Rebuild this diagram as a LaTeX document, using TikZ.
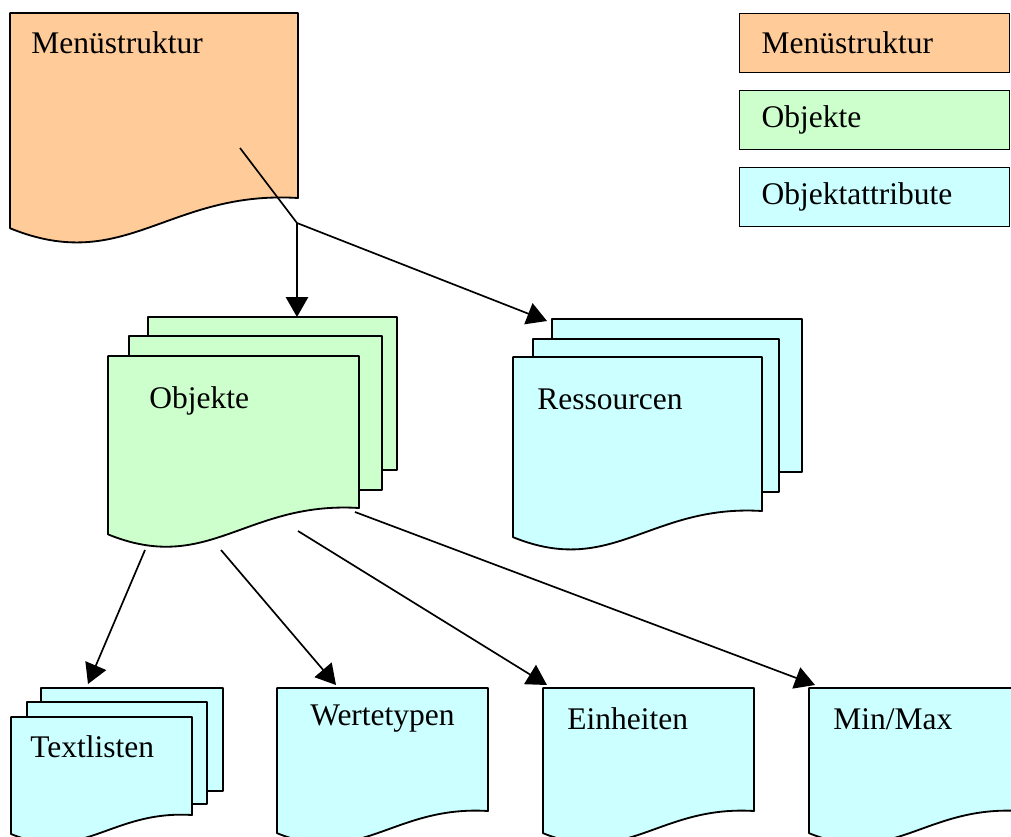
\documentclass[tikz,border=0pt]{standalone}
\usepackage{fontspec}
\setmainfont{Liberation Serif}
\usetikzlibrary{arrows.meta}
\definecolor{menucol}{HTML}{FFCC99}
\definecolor{objcol}{HTML}{CCFFCC}
\definecolor{attrcol}{HTML}{CCFFFF}
% page with wavy bottom: fill, left, top, right, bottom of right edge
\newcommand{\docpage}[5]{%
  \pgfmathsetmacro{\pgw}{#4-#2}
  \draw[docshape, fill=#1] (#2,#3) -- (#4,#3) -- (#4,#5)
    .. controls (#2+0.55*\pgw,#5-0.028*\pgw) and (#2+0.4*\pgw,#5+0.268*\pgw) .. (#2,#5+0.105*\pgw) -- cycle;
}
\begin{document}
\begin{tikzpicture}[
    x=0.025cm, y=-0.025cm,
    docshape/.style={draw, line width=1.3pt, line join=round},
    txt/.style={anchor=base west, inner sep=0pt, font=\fontsize{22.4}{27}\selectfont},
    keybox/.style={draw, line width=0.9pt, anchor=north west, minimum height=1.475cm,
        text width=5.65cm, inner xsep=0.55cm, align=left, font=\fontsize{22.4}{27}\selectfont},
    conn/.style={draw, line width=1.2pt},
    arr/.style={conn, -{Triangle[length=0.5cm, width=0.56cm]}}
    ]
\clip (0,0) rectangle (1011,836);

% Menüstruktur
\docpage{menucol}{10}{13}{298}{198}
\node[txt] (menu) at (31,53) {Menüstruktur};

% Objekte
\draw[docshape, fill=objcol] (148,317) rectangle (397,470);
\draw[docshape, fill=objcol] (129,336) rectangle (382,490);
\docpage{objcol}{108}{356}{359}{508}
\node[txt] (obj) at (149,408) {Objekte};

% Ressourcen
\draw[docshape, fill=attrcol] (552,319) rectangle (802,472);
\draw[docshape, fill=attrcol] (533,339) rectangle (779,492);
\docpage{attrcol}{513}{357}{762}{511}
\node[txt] (res) at (537,409) {Ressourcen};

% attributes
\draw[docshape, fill=attrcol] (41,688) rectangle (223,791);
\draw[docshape, fill=attrcol] (27,702) rectangle (207,804);
\docpage{attrcol}{11}{717}{192}{815}
\node[txt] (tl) at (30,757) {Textlisten};
\docpage{attrcol}{277}{688}{488}{811}
\node[txt] (wt) at (310,725) {Wertetypen};
\docpage{attrcol}{543}{688}{754}{811}
\node[txt] (eh) at (567,729) {Einheiten};
\docpage{attrcol}{809}{688}{1020}{811}
\node[txt] (mm) at (833,729) {Min/Max};

% legend
\node[keybox, fill=menucol] (k1) at (739,13) {Menüstruktur};
\node[keybox, fill=objcol] (k2) at (739,90) {Objekte};
\node[keybox, fill=attrcol] (k3) at (739,167) {Objektattribute};

\coordinate (menu-s) at (240,148);
\coordinate (fork) at (297,223);
\coordinate (obj-in) at (297,317);
\coordinate (res-in) at (547,321);
\coordinate (obj-s1) at (145,550);
\coordinate (obj-s2) at (221,550);
\coordinate (obj-s3) at (298,531);
\coordinate (obj-s4) at (355,512);
\coordinate (tl-in) at (88,684);
\coordinate (wt-in) at (336,685);
\coordinate (eh-in) at (547,685);
\coordinate (mm-in) at (815,685);

\draw[conn] (menu-s) -- (fork);
\draw[arr] (fork) -- (obj-in);
\draw[arr] (fork) -- (res-in);
\draw[arr] (obj-s1) -- (tl-in);
\draw[arr] (obj-s2) -- (wt-in);
\draw[arr] (obj-s3) -- (eh-in);
\draw[arr] (obj-s4) -- (mm-in);
\end{tikzpicture}
\end{document}
